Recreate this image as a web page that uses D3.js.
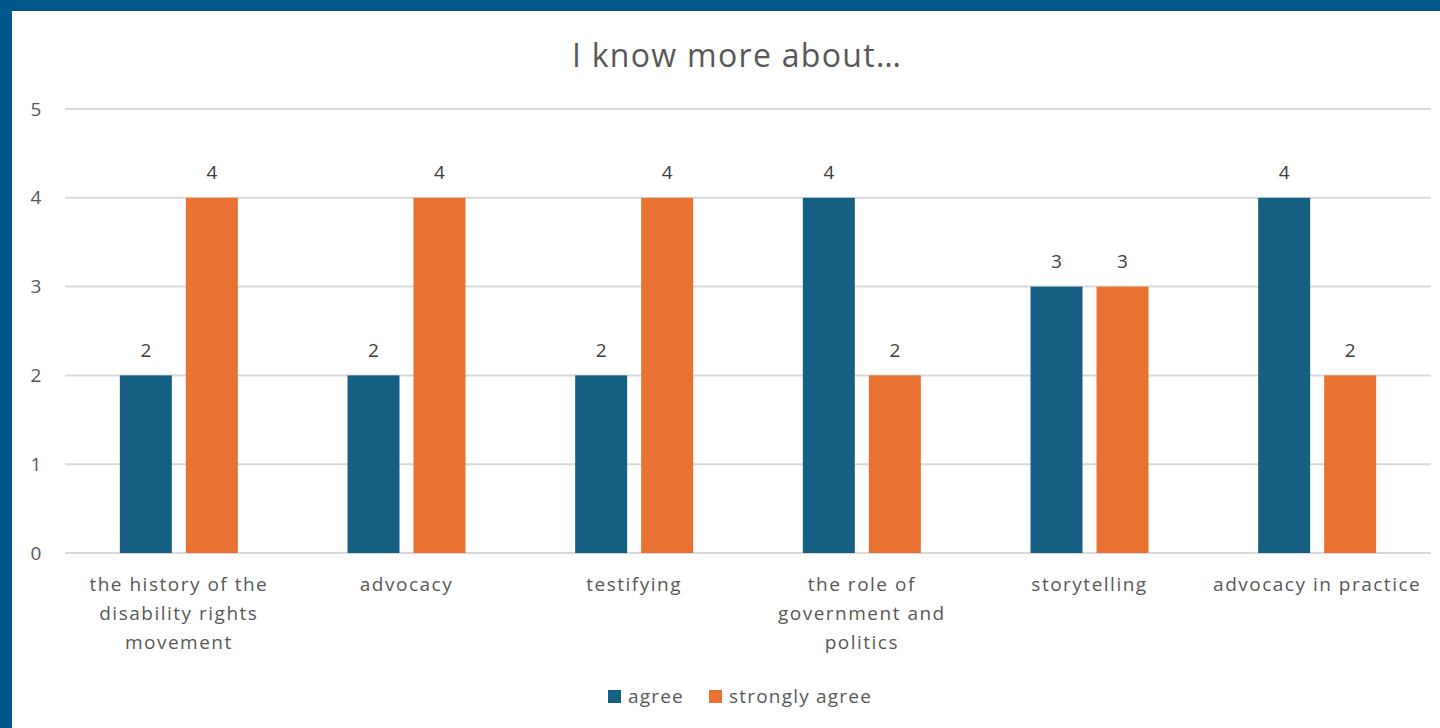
<!DOCTYPE html>
<html>
<head>
<meta charset="utf-8">
<script src="https://cdn.jsdelivr.net/npm/d3@7"></script>
<style>
  html, body { margin: 0; padding: 0; background: #fff; }
  svg { display: block; }
</style>
</head>
<body>
<svg id="chart" width="1440" height="728"></svg>
<script>
// Survey responses per topic
const categories = [
  ["the history of the", "disability rights", "movement"],
  ["advocacy"],
  ["testifying"],
  ["the role of", "government and", "politics"],
  ["storytelling"],
  ["advocacy in practice"]
];
const seriesNames = ["agree", "strongly agree"];
const agree = [2, 2, 2, 4, 3, 4];
const stronglyAgree = [4, 4, 4, 2, 3, 2];
const yTicks = [0, 1, 2, 3, 4, 5];
const titleText = "I know more about…";

const colors = ["#156082", "#E97132"];
const font = "'Open Sans', 'Liberation Sans', sans-serif";

const svg = d3.select("#chart");
const W = 1440, H = 728;

// frame: dark blue band along top and left
svg.append("rect").attr("x", 0).attr("y", 0).attr("width", W).attr("height", H).attr("fill", "#00578A");
svg.append("rect").attr("x", 12).attr("y", 11).attr("width", W - 12).attr("height", H - 11).attr("fill", "#fff");

const plot = { left: 65, right: 1431, top: 109, bottom: 553 };

const x0 = d3.scaleBand()
  .domain(d3.range(categories.length))
  .range([plot.left, plot.right]);

const y = d3.scaleLinear().domain([0, 5]).range([plot.bottom, plot.top]);

// gridlines
svg.append("g")
  .selectAll("line")
  .data(yTicks)
  .join("line")
  .attr("x1", plot.left).attr("x2", plot.right)
  .attr("y1", d => y(d)).attr("y2", d => y(d))
  .attr("stroke", "#d9d9d9").attr("stroke-width", 2);

// y tick labels
svg.append("g")
  .selectAll("text")
  .data(yTicks)
  .join("text")
  .attr("x", 36).attr("y", d => y(d))
  .attr("dy", "0.35em")
  .attr("text-anchor", "middle")
  .attr("font-family", font).attr("font-size", 19)
  .attr("fill", "#595959")
  .text(d => d);

// bars
const barW = 52, gap = 14;
const x1 = d3.scaleOrdinal().domain([0, 1]).range([-(gap / 2 + barW), gap / 2]);
const rows = categories.map((c, i) => [
  { s: 0, i, v: agree[i] },
  { s: 1, i, v: stronglyAgree[i] }
]).flat();

const center = i => x0(i) + x0.bandwidth() / 2;

svg.append("g")
  .selectAll("rect")
  .data(rows)
  .join("rect")
  .attr("x", d => center(d.i) + x1(d.s))
  .attr("y", d => y(d.v))
  .attr("width", barW)
  .attr("height", d => y(0) - y(d.v))
  .attr("fill", d => colors[d.s]);

// value labels
svg.append("g")
  .selectAll("text")
  .data(rows)
  .join("text")
  .attr("x", d => center(d.i) + x1(d.s) + barW / 2)
  .attr("y", d => y(d.v) - 25)
  .attr("dy", "0.35em")
  .attr("text-anchor", "middle")
  .attr("font-family", font).attr("font-size", 19)
  .attr("fill", "#404040")
  .text(d => d.v);

// category labels
const catG = svg.append("g");
categories.forEach((lines, i) => {
  const t = catG.append("text")
    .attr("text-anchor", "middle")
    .attr("font-family", font).attr("font-size", 19)
    .attr("letter-spacing", 1.5)
    .attr("fill", "#595959");
  lines.forEach((ln, k) => {
    t.append("tspan")
      .attr("x", center(i))
      .attr("y", 584 + k * 29)
      .attr("dy", "0.35em")
      .text(ln);
  });
});

// title
svg.append("text")
  .attr("x", 737).attr("y", 56)
  .attr("dy", "0.35em")
  .attr("text-anchor", "middle")
  .attr("font-family", font).attr("font-size", 32)
  .attr("letter-spacing", 1.3)
  .attr("fill", "#595959")
  .text(titleText);

// legend
const legendItems = [
  { name: seriesNames[0], x: 608, color: colors[0] },
  { name: seriesNames[1], x: 709, color: colors[1] }
];
const lg = svg.append("g");
legendItems.forEach(it => {
  lg.append("rect")
    .attr("x", it.x).attr("y", 690)
    .attr("width", 13).attr("height", 13)
    .attr("fill", it.color);
  lg.append("text")
    .attr("x", it.x + 20).attr("y", 696)
    .attr("dy", "0.35em")
    .attr("font-family", font).attr("font-size", 19)
    .attr("letter-spacing", 1.2)
    .attr("fill", "#595959")
    .text(it.name);
});
</script>
</body>
</html>
